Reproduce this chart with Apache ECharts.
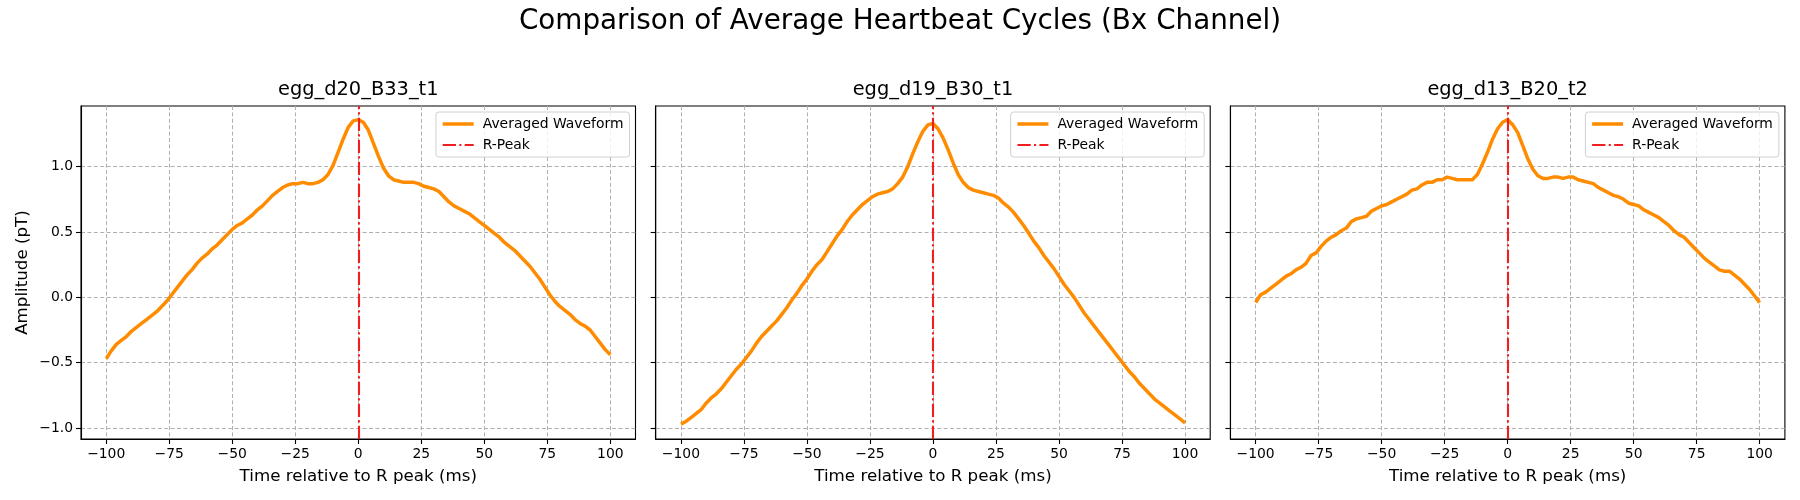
<!DOCTYPE html>
<html><head><meta charset="utf-8">
<script src="https://cdn.jsdelivr.net/npm/echarts@6/dist/echarts.min.js"></script>
<style>html,body{margin:0;padding:0;background:#fff}#c{width:1800px;height:500px}</style>
</head><body><div id="c"></div><script>
const times = [-100,-98,-96,-94,-92,-90,-88,-86,-84,-82,-80,-78,-76,-74,-72,-70,-68,-66,-64,-62,-60,-58,-56,-54,-52,-50,-48,-46,-44,-42,-40,-38,-36,-34,-32,-30,-28,-26,-24,-22,-20,-18,-16,-14,-12,-10,-8,-6,-4,-2,0,2,4,6,8,10,12,14,16,18,20,22,24,26,28,30,32,34,36,38,40,42,44,46,48,50,52,54,56,58,60,62,64,66,68,70,72,74,76,78,80,82,84,86,88,90,92,94,96,98,100];
const waveD20B33 = [-0.47,-0.41,-0.36,-0.33,-0.30,-0.26,-0.23,-0.20,-0.17,-0.14,-0.11,-0.07,-0.03,0.02,0.07,0.12,0.17,0.21,0.26,0.30,0.33,0.37,0.40,0.44,0.48,0.52,0.55,0.57,0.60,0.63,0.67,0.70,0.74,0.78,0.81,0.84,0.86,0.87,0.87,0.88,0.87,0.87,0.88,0.90,0.94,1.01,1.11,1.21,1.30,1.35,1.36,1.34,1.28,1.18,1.08,0.99,0.93,0.90,0.89,0.88,0.88,0.88,0.87,0.85,0.84,0.83,0.81,0.77,0.73,0.70,0.68,0.66,0.64,0.61,0.58,0.55,0.52,0.49,0.46,0.42,0.39,0.36,0.32,0.28,0.24,0.19,0.14,0.08,0.02,-0.03,-0.07,-0.10,-0.13,-0.17,-0.20,-0.22,-0.25,-0.30,-0.35,-0.40,-0.44];
const waveD19B30 = [-0.97,-0.95,-0.92,-0.89,-0.86,-0.81,-0.77,-0.74,-0.70,-0.65,-0.60,-0.55,-0.51,-0.46,-0.41,-0.35,-0.30,-0.26,-0.22,-0.18,-0.13,-0.08,-0.02,0.03,0.09,0.14,0.20,0.25,0.29,0.35,0.41,0.47,0.52,0.58,0.63,0.67,0.71,0.74,0.77,0.79,0.80,0.81,0.83,0.87,0.92,1.00,1.10,1.19,1.27,1.32,1.33,1.29,1.22,1.13,1.03,0.94,0.88,0.84,0.82,0.81,0.80,0.79,0.78,0.76,0.72,0.69,0.65,0.60,0.55,0.49,0.43,0.38,0.32,0.27,0.22,0.16,0.10,0.05,0.00,-0.06,-0.12,-0.17,-0.22,-0.27,-0.32,-0.37,-0.42,-0.47,-0.52,-0.57,-0.61,-0.66,-0.70,-0.74,-0.78,-0.81,-0.84,-0.87,-0.90,-0.93,-0.96];
const waveD13B20 = [-0.04,0.02,0.04,0.07,0.10,0.13,0.16,0.18,0.21,0.23,0.26,0.32,0.34,0.39,0.43,0.46,0.48,0.51,0.53,0.58,0.60,0.61,0.62,0.66,0.68,0.70,0.71,0.73,0.75,0.77,0.79,0.82,0.83,0.86,0.88,0.88,0.90,0.90,0.92,0.91,0.90,0.90,0.90,0.90,0.94,1.02,1.11,1.21,1.29,1.34,1.36,1.32,1.26,1.16,1.06,0.98,0.93,0.91,0.91,0.92,0.92,0.91,0.92,0.92,0.90,0.89,0.88,0.87,0.84,0.82,0.80,0.78,0.77,0.75,0.72,0.71,0.70,0.67,0.65,0.63,0.61,0.58,0.55,0.51,0.48,0.46,0.42,0.38,0.34,0.30,0.27,0.24,0.21,0.20,0.20,0.17,0.14,0.10,0.06,0.01,-0.04];
const subplotTitles = ['egg_d20_B33_t1', 'egg_d19_B30_t1', 'egg_d13_B20_t2'];
const xTicks = [-100, -75, -50, -25, 0, 25, 50, 75, 100];
const yTicks = [-1.0, -0.5, 0.0, 0.5, 1.0];
const rPeakTime = 0;
const mainTitle = 'Comparison of Average Heartbeat Cycles (Bx Channel)';
const xLabel = 'Time relative to R peak (ms)';
const yLabel = 'Amplitude (pT)';
const seriesNames = ['Averaged Waveform', 'R-Peak'];

const waves = [waveD20B33, waveD19B30, waveD13B20];
const FONT = 'DejaVu Sans';
const gridLefts = [81, 655.7, 1230.4];
const gridW = 554.5;
const RED = '#f01e1e';
const minus = v => (v < 0 ? '\u2212' : '') + Math.abs(v);
const gridLine = {show: true, lineStyle: {color: '#b0b0b0', type: [4, 2.4], width: 1}};

const grids = [], xAxes = [], yAxes = [], series = [], titles = [], legends = [];
titles.push({text: mainTitle, left: 'center', top: 8, padding: 0,
  textStyle: {fontFamily: FONT, fontSize: 27.8, fontWeight: 'normal', color: '#000'}});
for (let i = 0; i < 3; i++) {
  grids.push({left: gridLefts[i], top: 106, width: gridW, height: 333, show: true,
    borderColor: '#000', borderWidth: 1.1, backgroundColor: 'transparent', containLabel: false});
  xAxes.push({type: 'value', gridIndex: i, min: -110, max: 110,
    name: xLabel, nameLocation: 'middle', nameGap: 29,
    nameTextStyle: {fontFamily: FONT, fontSize: 16.7, color: '#000'},
    axisLine: {show: true, onZero: false, lineStyle: {color: '#000', width: 1.1}},
    axisTick: {show: true, inside: false, length: 5, customValues: xTicks, lineStyle: {color: '#000', width: 1.1}},
    axisLabel: {show: true, margin: 8, customValues: xTicks, formatter: minus,
      fontFamily: FONT, fontSize: 13.9, color: '#000'},
    splitLine: gridLine});
  yAxes.push({type: 'value', gridIndex: i, min: -1.084, max: 1.464,
    name: i === 0 ? yLabel : '', nameLocation: 'middle', nameGap: 50, nameRotate: 90,
    nameTextStyle: {fontFamily: FONT, fontSize: 16.7, color: '#000'},
    axisLine: {show: true, onZero: false, lineStyle: {color: '#000', width: 1.1}},
    axisTick: {show: true, inside: false, length: 5, customValues: yTicks, lineStyle: {color: '#000', width: 1.1}},
    axisLabel: {show: i === 0, margin: 8, customValues: yTicks,
      formatter: v => (v < 0 ? '\u2212' : '') + Math.abs(v).toFixed(1),
      fontFamily: FONT, fontSize: 13.9, color: '#000'},
    splitLine: gridLine});
  titles.push({text: subplotTitles[i], left: gridLefts[i] + gridW / 2, textAlign: 'center', top: 80, padding: 0,
    textStyle: {fontFamily: FONT, fontSize: 19.4, fontWeight: 'normal', color: '#000'}});
  series.push({name: seriesNames[0], type: 'line', xAxisIndex: i, yAxisIndex: i,
    data: times.map((t, k) => [t, waves[i][k]]), showSymbol: false, symbol: 'none', smooth: false,
    lineStyle: {color: '#ff8c00', width: 3.5}, itemStyle: {color: '#ff8c00'}, z: 3, silent: true});
  series.push({name: seriesNames[1], type: 'line', xAxisIndex: i, yAxisIndex: i, data: [],
    symbol: 'none', showSymbol: false,
    lineStyle: {color: RED, width: 2.1, type: [13.3, 3.3, 2.1, 3.3]}, itemStyle: {color: RED}, z: 4,
    markLine: {silent: true, symbol: ['none', 'none'], label: {show: false}, animation: false,
      lineStyle: {color: RED, width: 2.1, type: [13.3, 3.3, 2.1, 3.3], opacity: 1},
      data: [{xAxis: rPeakTime}]}});
  legends.push({data: seriesNames, orient: 'vertical', right: 1800 - (gridLefts[i] + gridW - 6), top: 112,
    itemWidth: 31, itemHeight: 14, itemGap: 7, padding: [5, 6, 5, 5],
    backgroundColor: 'rgba(255,255,255,0.8)', borderColor: '#d0d0d0', borderWidth: 1, borderRadius: 3,
    selectedMode: false,
    itemStyle: {opacity: 0},
    lineStyle: {width: 'inherit', type: 'inherit', color: 'inherit'},
    textStyle: {fontFamily: FONT, fontSize: 13.9, color: '#000', padding: [0, 0, 0, 4]}});
}
const chart = echarts.init(document.getElementById('c'), null, {renderer: 'canvas'});
chart.setOption({animation: false, backgroundColor: '#fff', title: titles, legend: legends,
  grid: grids, xAxis: xAxes, yAxis: yAxes, series: series, tooltip: {show: false}});
</script></body></html>
